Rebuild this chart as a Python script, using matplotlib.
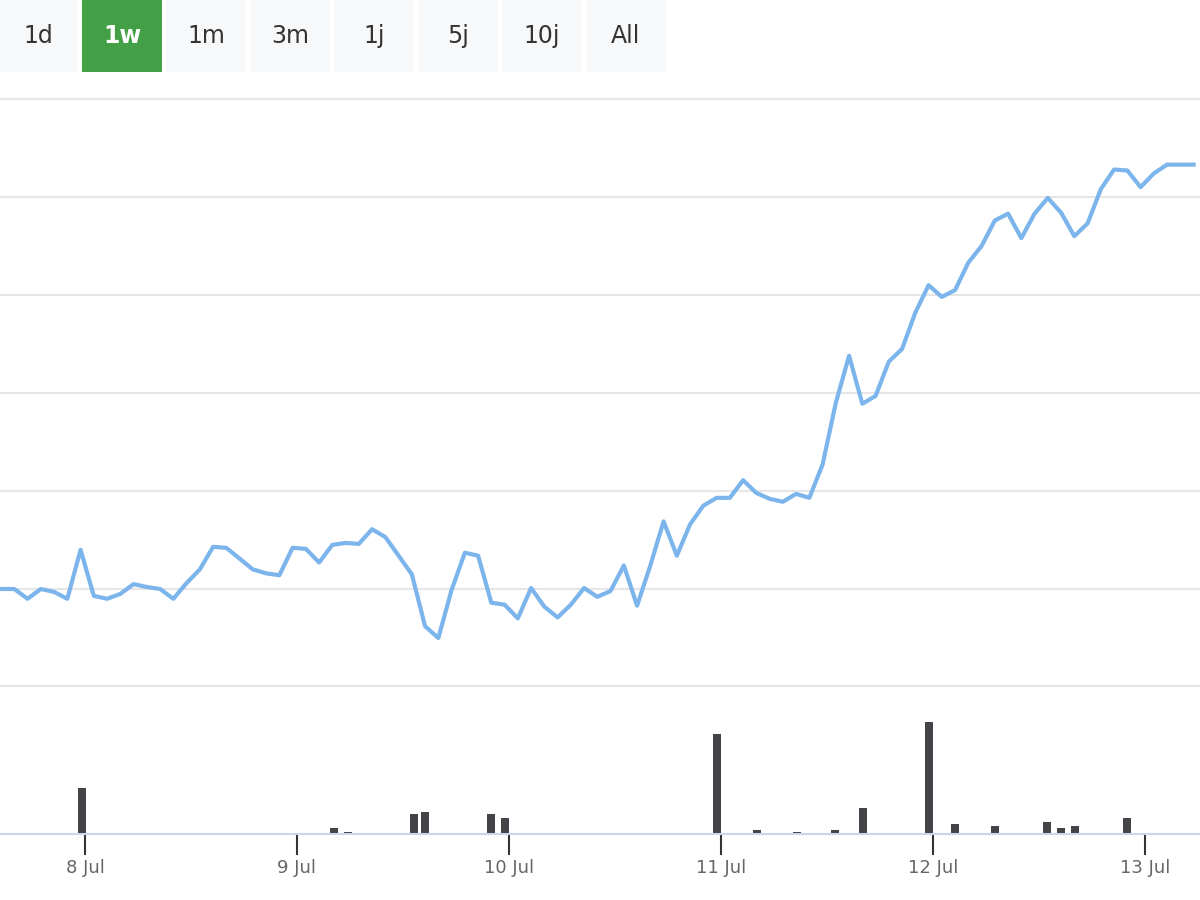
import matplotlib.pyplot as plt
from matplotlib.patches import Rectangle

# range selector buttons
buttons = ['1d', '1w', '1m', '3m', '1j', '5j', '10j', 'All']
active = '1w'

# price line, one point every 1.5 h starting 7 Jul 14:30 (hours relative to 8 Jul 00:00)
start_hour = -9.5
step_hour = 1.5
price = [10.0, 10.0, 9.0, 10.0, 9.7, 9.0, 14.0, 9.3, 9.0, 9.5, 10.5, 10.2, 10.0, 9.0, 10.6, 12.0,
         14.3, 14.2, 13.1, 12.0, 11.6, 11.4, 14.2, 14.1, 12.7, 14.5, 14.7, 14.6, 16.1, 15.3, 13.4, 11.5,
         6.2, 5.0, 9.9, 13.7, 13.4, 8.6, 8.4, 7.0, 10.1, 8.2, 7.1, 8.4, 10.1, 9.2, 9.8, 12.4,
         8.3, 12.4, 16.9, 13.4, 16.6, 18.5, 19.3, 19.3, 21.1, 19.8, 19.2, 18.9, 19.7, 19.3, 22.7, 29.0,
         33.8, 28.9, 29.7, 33.2, 34.5, 38.2, 41.0, 39.8, 40.5, 43.3, 45.0, 47.6, 48.3, 45.8, 48.3, 49.9,
         48.4, 46.0, 47.3, 50.8, 52.8, 52.7, 51.0, 52.4, 53.3, 53.3, 53.3]

# volume bars (hours relative to 8 Jul 00:00)
vol_hours = [-0.3, 28.2, 29.8, 37.2, 38.5, 46.0, 47.6, 71.6, 76.1, 80.6, 84.9, 88.1, 95.5, 98.5,
             103.0, 108.9, 110.5, 112.1, 118.0]
vol = [46, 6, 2, 20, 22, 20, 16, 100, 4, 2, 4, 26, 112, 10, 8, 12, 6, 8, 16]

day_labels = ['8 Jul', '9 Jul', '10 Jul', '11 Jul', '12 Jul', '13 Jul']
day_hours = [0, 24, 48, 72, 96, 120]

W, H = 1200, 900
px_per_hour = 212 / 24
xlim = (-85 / px_per_hour, (W - 85) / px_per_hour)

fig = plt.figure(figsize=(12, 9), dpi=100)

# buttons
for i, b in enumerate(buttons):
    x0 = -2 + 84 * i
    on = b == active
    fig.patches.append(Rectangle((x0 / W, 1 - 72 / H), 80 / W, 72 / H, transform=fig.transFigure,
                                 facecolor='#43a047' if on else '#f7f8fa', edgecolor='none'))
    fig.text((x0 + 40) / W, 1 - 36 / H, b, ha='center', va='center', fontsize=17,
             color='white' if on else '#333333', fontweight='bold' if on else 'normal')

# main price chart
ax = fig.add_axes([0, 213 / H, 1, 590 / H])
hours = [start_hour + step_hour * i for i in range(len(price))]
ax.plot(hours, price, color='#7cb5ec', lw=3, solid_joinstyle='round')
ax.set_xlim(*xlim)
ax.set_ylim(0, 60.2)
for g in range(10, 61, 10):
    ax.axhline(g, color='#e6e6e6', lw=1.5, zorder=0)
for s in ax.spines.values():
    s.set_visible(False)
ax.axhline(0, color='#e6e6e6', lw=3, clip_on=False)
ax.set_xticks([])
ax.set_yticks([])

# volume chart
axv = fig.add_axes([0, 66 / H, 1, 147 / H])
axv.bar(vol_hours, vol, width=8 / px_per_hour, color='#434348', align='center')
axv.set_xlim(*xlim)
axv.set_ylim(0, 147)
for k in ['top', 'left', 'right']:
    axv.spines[k].set_visible(False)
axv.spines['bottom'].set_color('#ccd6eb')
axv.spines['bottom'].set_linewidth(1.5)
axv.set_yticks([])
axv.set_xticks(day_hours)
axv.set_xticklabels(day_labels, fontsize=13, color='#666666')
axv.tick_params(axis='x', length=15, width=1.5, color='#333333', pad=3)

fig.savefig('out.png', dpi=100)
